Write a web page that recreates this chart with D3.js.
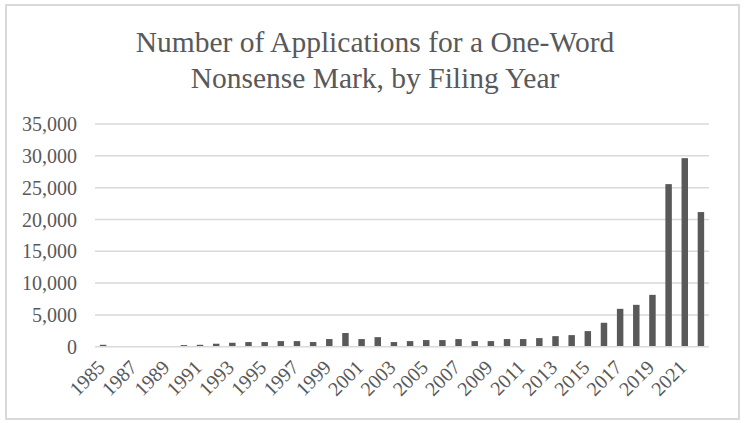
<!DOCTYPE html>
<html><head><meta charset="utf-8">
<script src="https://cdn.jsdelivr.net/npm/d3@7"></script>
<style>body{margin:0;background:#fff}svg{display:block}</style>
</head><body>
<svg id="c" width="749" height="423"></svg>
<script>
const years = d3.range(1985, 2023).map(String);
const counts = [300, 30, 30, 30, 30, 250, 300, 470, 620, 730, 730, 880, 880, 730, 1200,
  2150, 1200, 1500, 730, 880, 1040, 1040, 1200, 880, 880, 1200, 1200, 1350, 1660, 1820,
  2450, 3760, 5950, 6580, 8150, 25550, 29630, 21160];
const yTicks = [0, 5000, 10000, 15000, 20000, 25000, 30000, 35000];
const titleLines = ["Number of Applications for a One-Word", "Nonsense Mark, by Filing Year"];

const chartSvg = d3.select("#c");
const textCol = "#595959";

chartSvg.append("rect").attr("x", 6).attr("y", 5).attr("width", 733).attr("height", 414)
  .attr("fill", "#fff").attr("stroke", "#d9d9d9").attr("stroke-width", 2);

const x = d3.scaleBand().domain(years).range([95, 709]).paddingInner(0.6).paddingOuter(0.3);
const y = d3.scaleLinear().domain([0, 35000]).range([346.7, 124]);

chartSvg.append("g").selectAll("line").data(yTicks.filter(d => d > 0)).join("line")
  .attr("x1", 95).attr("x2", 709).attr("y1", d => y(d)).attr("y2", d => y(d))
  .attr("stroke", "#d9d9d9").attr("stroke-width", 1.5);

chartSvg.append("g").selectAll("rect").data(years).join("rect")
  .attr("x", d => x(d)).attr("width", x.bandwidth())
  .attr("y", (d, i) => y(counts[i])).attr("height", (d, i) => y(0) - y(counts[i]))
  .attr("fill", "#595959");

chartSvg.append("line").attr("x1", 95).attr("x2", 709).attr("y1", y(0)).attr("y2", y(0))
  .attr("stroke", "#d9d9d9").attr("stroke-width", 1.5);

const fmt = d3.format(",");
const yAxis = chartSvg.append("g").attr("transform", "translate(77,0)")
  .call(d3.axisLeft(y).tickValues(yTicks).tickFormat(fmt).tickSize(0).tickPadding(0));
yAxis.attr("font-family", null).attr("font-size", null);
yAxis.select(".domain").remove();
yAxis.selectAll("text").style("font", "20px 'Liberation Serif'").attr("fill", textCol).attr("dy", "0.33em");

const xAxis = chartSvg.append("g").attr("transform", `translate(0,${y(0)})`)
  .call(d3.axisBottom(x).tickValues(years.filter((d, i) => i % 2 === 0)).tickSize(0).tickPadding(0));
xAxis.attr("font-family", null).attr("font-size", null);
xAxis.select(".domain").remove();
xAxis.selectAll("text").style("font", "20px 'Liberation Serif'").attr("fill", textCol)
  .attr("text-anchor", "end").attr("dy", null).attr("y", 0)
  .attr("transform", "translate(3,22) rotate(-45)");

chartSvg.append("g").selectAll("text").data(titleLines).join("text")
  .attr("x", 375).attr("y", (d, i) => 52 + i * 35.5).attr("text-anchor", "middle")
  .style("font", "29.5px 'Liberation Serif'").attr("fill", textCol).text(d => d);
</script>
</body></html>
